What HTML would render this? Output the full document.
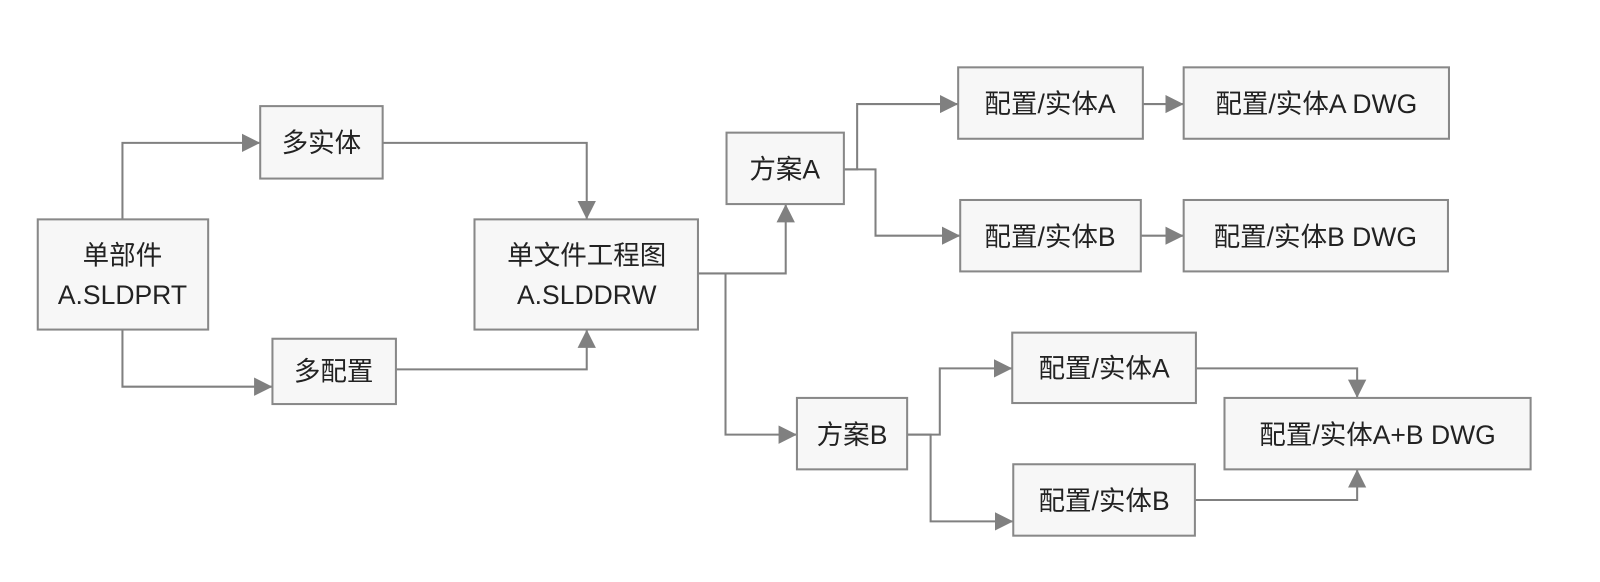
<!DOCTYPE html>
<html><head><meta charset="utf-8"><style>
body{margin:0;background:#fff;width:1600px;height:577px;overflow:hidden}
</style></head><body>
<svg width="1600" height="577" viewBox="0 0 1568 565.5" preserveAspectRatio="none" xmlns="http://www.w3.org/2000/svg" font-family="Liberation Sans, Noto Sans CJK SC, sans-serif" font-size="26" fill="#222">
<defs><marker id="b" markerWidth="20" markerHeight="20" refX="18" refY="9" orient="auto" markerUnits="userSpaceOnUse"><path d="M0,0 L18,9 L0,18 z" fill="#808080"/></marker></defs>
<g fill="none" stroke="#808080" stroke-width="2" marker-end="url(#b)">
<path d="M120 215 V140 H255"/>
<path d="M120 323 V379 H267"/>
<path d="M375 140 H575 V215"/>
<path d="M388 362 H575 V323"/>
<path d="M684 268 H770 V200"/>
<path d="M711 268 V426 H781"/>
<path d="M827 166 H840 V102 H939"/>
<path d="M827 166 H858 V231 H941"/>
<path d="M1120 102 H1160"/>
<path d="M1118 231 H1160"/>
<path d="M889 426 H921 V361 H992"/>
<path d="M889 426 H912 V511 H993"/>
<path d="M1172 361 H1330 V390"/>
<path d="M1171 490 H1330 V460"/>
</g>
<g fill="#f7f7f7" stroke="#888" stroke-width="2">
<rect x="255" y="104" width="120" height="71"/>
<rect x="37" y="215" width="167" height="108"/>
<rect x="267" y="332" width="121" height="64"/>
<rect x="465" y="215" width="219" height="108"/>
<rect x="712" y="130" width="115" height="70"/>
<rect x="939" y="66" width="181" height="70"/>
<rect x="1160" y="66" width="260" height="70"/>
<rect x="941" y="196" width="177" height="70"/>
<rect x="1160" y="196" width="259" height="70"/>
<rect x="992" y="326" width="180" height="69"/>
<rect x="781" y="390" width="108" height="70"/>
<rect x="1200" y="390" width="300" height="70"/>
<rect x="993" y="455" width="178" height="70"/>
</g>
<g text-anchor="middle">
<text x="315" y="149">多实体</text>
<text x="120" y="259">单部件</text>
<text x="120" y="298">A.SLDPRT</text>
<text x="327" y="373">多配置</text>
<text x="575" y="259">单文件工程图</text>
<text x="575" y="298">A.SLDDRW</text>
<text x="769" y="175">方案A</text>
<text x="1029" y="111">配置/实体A</text>
<text x="1290" y="111">配置/实体A DWG</text>
<text x="1029" y="241">配置/实体B</text>
<text x="1289" y="241">配置/实体B DWG</text>
<text x="1082" y="370">配置/实体A</text>
<text x="835" y="435">方案B</text>
<text x="1350" y="435">配置/实体A+B DWG</text>
<text x="1082" y="500">配置/实体B</text>
</g>
</svg>
</body></html>
